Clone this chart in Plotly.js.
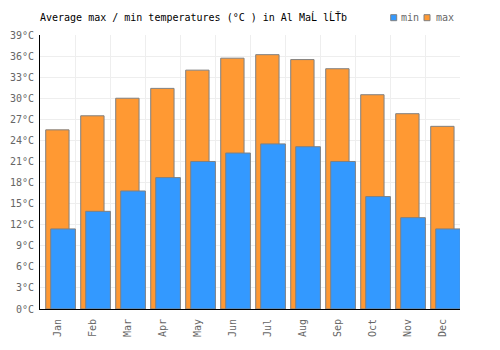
<!DOCTYPE html>
<html>
<head>
<meta charset="utf-8">
<script src="https://cdn.plot.ly/plotly-3.0.1.min.js"></script>
<style>html,body{margin:0;padding:0;background:#fff;}#chart{width:500px;height:350px;}</style>
</head>
<body>
<div id="chart"></div>
<script>
const months = ["Jan","Feb","Mar","Apr","May","Jun","Jul","Aug","Sep","Oct","Nov","Dec"];
const maxTemps = [25.5, 27.5, 30.0, 31.4, 34.0, 35.7, 36.2, 35.5, 34.2, 30.5, 27.8, 26.0];
const minTemps = [11.4, 13.9, 16.8, 18.7, 21.0, 22.2, 23.5, 23.1, 21.0, 16.0, 13.0, 11.4];
const yTicks = [0,3,6,9,12,15,18,21,24,27,30,33,36,39];
const yTickText = yTicks.map(v => v + '°C');
const seriesNames = ['min', 'max'];
const seriesColors = ['#3399ff', '#ff9933'];

const FONT = "DejaVu Sans Mono, monospace";
const traces = [
  {type:'bar', name:'max', x:months, y:maxTemps, width:0.667, offset:-0.337,
   marker:{color:seriesColors[1], line:{color:'#808080', width:1}}, hoverinfo:'none'},
  {type:'bar', name:'min', x:months, y:minTemps, width:0.705, offset:-0.194,
   marker:{color:seriesColors[0], line:{color:'#808080', width:1}}, hoverinfo:'none'}
];

// custom legend (plot-area geometry: left 40.3px, width 420px, bottom 308.7px, height 273.7px)
const L = 40.3, W = 420, B = 308.7, H = 273.7;
const px = v => (v - L) / W, py = v => (B - v) / H;
const legendSquares = [391, 424.3];
const legendTexts = [400.3, 435];
const shapes = seriesNames.map((n, i) => ({
  type:'rect', xref:'paper', yref:'paper',
  x0:px(legendSquares[i]), x1:px(legendSquares[i] + 6), y0:py(20.7), y1:py(14.7),
  fillcolor:seriesColors[i], line:{color:'#808080', width:1}
}));
const annotations = seriesNames.map((n, i) => ({
  text:n, xref:'paper', yref:'paper', x:px(legendTexts[i] - 1), y:py(18), xanchor:'left', yanchor:'middle',
  showarrow:false, font:{family:FONT, size:10, color:'#666666'}
}));

const layout = {
  width:500, height:350,
  margin:{l:40.3, r:39.7, t:35, b:41.3},
  paper_bgcolor:'#ffffff', plot_bgcolor:'#ffffff',
  barmode:'overlay',
  showlegend:false,
  font:{family:FONT, size:10, color:'#666666'},
  title:{text:'Average max / min temperatures (°C ) in Al MaĹ lĹŤb', font:{family:FONT, size:10, color:'#000000'},
         x:0.08, xref:'container', xanchor:'left', y:0.951, yanchor:'middle'},
  shapes:shapes,
  annotations:annotations,
  xaxis:{type:'category', categoryorder:'array', categoryarray:months, tickson:'boundaries',
         showgrid:true, gridcolor:'#eeeeee', gridwidth:1, ticks:'', tickangle:-90, ticklabelstandoff:5,
         showline:true, linecolor:'#000000', linewidth:1, zeroline:false, range:[-0.5,11.5],
         tickfont:{family:FONT, size:10, color:'#666666'}},
  yaxis:{range:[0,39], tickvals:yTicks, ticktext:yTickText, showgrid:true, gridcolor:'#eeeeee', gridwidth:1,
         ticks:'', ticklabelstandoff:3, showline:true, linecolor:'#000000', linewidth:1, zeroline:false,
         tickfont:{family:FONT, size:10, color:'#666666'}}
};
Plotly.newPlot('chart', traces, layout, {displayModeBar:false, staticPlot:true});
</script>
</body>
</html>
